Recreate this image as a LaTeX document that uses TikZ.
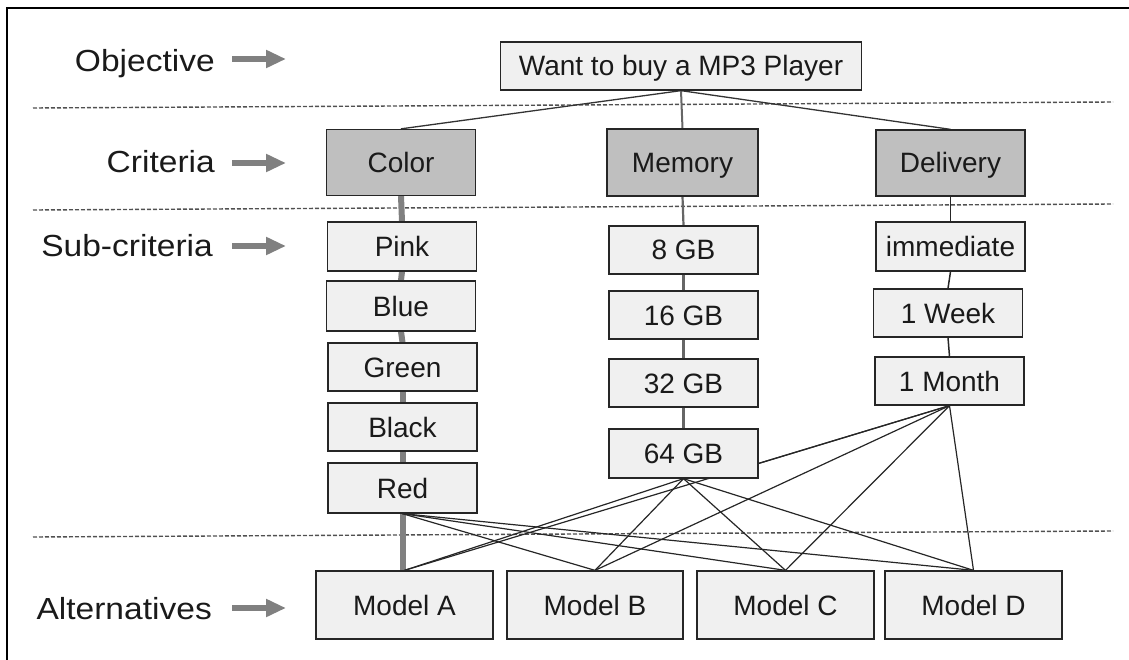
\documentclass[tikz,border=0pt]{standalone}
\usepackage{fontspec}
\setmainfont{Liberation Sans}
\newfontfamily\labfont[FakeStretch=1.1]{Liberation Sans}
\usetikzlibrary{arrows.meta,backgrounds}
\definecolor{boxfill}{HTML}{F0F0F0}
\definecolor{critfill}{HTML}{BFBFBF}
\definecolor{arrgray}{HTML}{808080}
\definecolor{dashgray}{HTML}{505050}
\definecolor{textdark}{HTML}{1A1A1A}
\begin{document}
\begin{tikzpicture}[x=1pt,y=-1pt,
  box/.style={draw=black!85, line width=1.3pt, fill=boxfill, minimum width=149pt, minimum height=49pt, inner sep=0pt, text height=20pt, text depth=0pt, text=textdark, font=\fontsize{28}{31}\selectfont},
  crit/.style={box, fill=critfill, minimum height=66pt},
  model/.style={box, minimum width=177pt, minimum height=68pt},
  lab/.style={font=\labfont\fontsize{30.5}{33}\selectfont, inner sep=0pt, text=textdark},
  labarrow/.style={draw=arrgray, line width=6pt, -{Triangle[length=20pt,width=17pt]}},
  sepline/.style={draw=dashgray, line width=1.4pt, dash pattern=on 4pt off 2pt},
  topline/.style={draw=black!80, line width=1.3pt},
  colorchain/.style={draw=arrgray, line width=6pt},
  memchain/.style={draw=black!60, line width=2.2pt},
  delchain/.style={draw=black!85, line width=1.5pt},
  cross/.style={draw=black!85, line width=1.2pt}]
\useasboundingbox (0,0) rectangle (1129,660);
% frame
\coordinate (fb) at (7,660);
\coordinate (fc) at (7,8);
\coordinate (fr) at (1129,8);
\draw[line width=1.5pt] (fb) -- (fc) -- (fr);
% nodes
\node[box, minimum width=361pt, minimum height=48pt] (obj) at (681,66) {Want to buy a MP3 Player};
\node[crit] (color) at (401,162.5) {Color};
\node[crit, minimum width=151pt, minimum height=67pt] (memory) at (682.5,162.5) {Memory};
\node[crit] (delivery) at (950.5,163) {Delivery};
\node[box] (pink) at (402,246.5) {Pink};
\node[box, minimum height=50pt] (blue) at (401,306) {Blue};
\node[box, minimum height=48pt] (green) at (402.5,367) {Green};
\node[box, minimum height=48pt] (black) at (402.5,427) {Black};
\node[box, minimum height=50pt] (red) at (402.5,488) {Red};
\node[box, minimum height=48pt] (g8) at (683.5,250) {8 GB};
\node[box, minimum height=48pt] (g16) at (683.5,315) {16 GB};
\node[box, minimum height=48pt] (g32) at (683.5,383) {32 GB};
\node[box] (g64) at (683.5,453.5) {64 GB};
\node[box] (imm) at (950.5,246.5) {immediate};
\node[box, minimum height=48pt] (week) at (948,313) {1 Week};
\node[box, minimum height=48pt] (month) at (949.5,381) {1 Month};
\node[model] (ma) at (404.5,605) {Model A};
\node[model, minimum width=176pt] (mb) at (595,605) {Model B};
\node[model] (mc) at (785.5,605) {Model C};
\node[model] (md) at (973.5,605) {Model D};
% level labels
\node[lab, anchor=base east] (lobj) at (215,72) {Objective};
\node[lab, anchor=base east] (lcrit) at (215,173) {Criteria};
\node[lab, anchor=base east] (lsub) at (213,257) {Sub-criteria};
\node[lab, anchor=base east] (lalt) at (212,619) {Alternatives};
\coordinate (a1s) at (232,59); \coordinate (a1e) at (286,59);
\coordinate (a2s) at (232,163); \coordinate (a2e) at (286,163);
\coordinate (a3s) at (232,246); \coordinate (a3e) at (286,246);
\coordinate (a4s) at (232,608); \coordinate (a4e) at (286,608);
\draw[labarrow] (a1s) -- (a1e);
\draw[labarrow] (a2s) -- (a2e);
\draw[labarrow] (a3s) -- (a3e);
\draw[labarrow] (a4s) -- (a4e);
\begin{pgfonlayer}{background}
% separators
\coordinate (d1l) at (33,108); \coordinate (d1r) at (1113,102);
\coordinate (d2l) at (33,210); \coordinate (d2r) at (1113,204);
\coordinate (d3l) at (33,537); \coordinate (d3r) at (1113,531);
\draw[sepline] (d1l) -- (d1r);
\draw[sepline] (d2l) -- (d2r);
\draw[sepline] (d3l) -- (d3r);
% objective to criteria
\draw[topline] (obj.south) -- (color.north);
\draw[topline, draw=black!60, line width=2pt] (obj.south) -- (memory.north);
\draw[topline] (obj.south) -- (delivery.north);
% chains
\draw[colorchain] (color.south) -- (pink.north);
\draw[colorchain] (pink.south) -- (blue.north);
\draw[colorchain] (blue.south) -- (green.north);
\draw[colorchain] (green.south) -- (black.north);
\draw[colorchain] (black.south) -- (red.north);
\draw[colorchain] (red.south) -- (red.south |- ma.north);
\draw[memchain] (memory.south) -- (g8.north);
\draw[memchain] (g8.south) -- (g16.north);
\draw[memchain] (g16.south) -- (g32.north);
\draw[memchain] (g32.south) -- (g64.north);
\draw[delchain] (delivery.south) -- (imm.north);
\draw[delchain] (imm.south) -- (week.north);
\draw[delchain] (week.south) -- (month.north);
% cross links
\draw[cross] (red.south) -- (mb.north);
\draw[cross] (red.south) -- (mc.north);
\draw[cross] (red.south) -- (md.north);
\draw[cross] (g64.south) -- (ma.north);
\draw[cross] (g64.south) -- (mb.north);
\draw[cross] (g64.south) -- (mc.north);
\draw[cross] (g64.south) -- (md.north);
\draw[cross] (month.south) -- ([yshift=-10pt]g64.east);
\draw[cross] (month.south) -- (ma.north);
\draw[cross] (month.south) -- (mb.north);
\draw[cross] (month.south) -- (mc.north);
\draw[cross] (month.south) -- (md.north);
\end{pgfonlayer}
\end{tikzpicture}
\end{document}
